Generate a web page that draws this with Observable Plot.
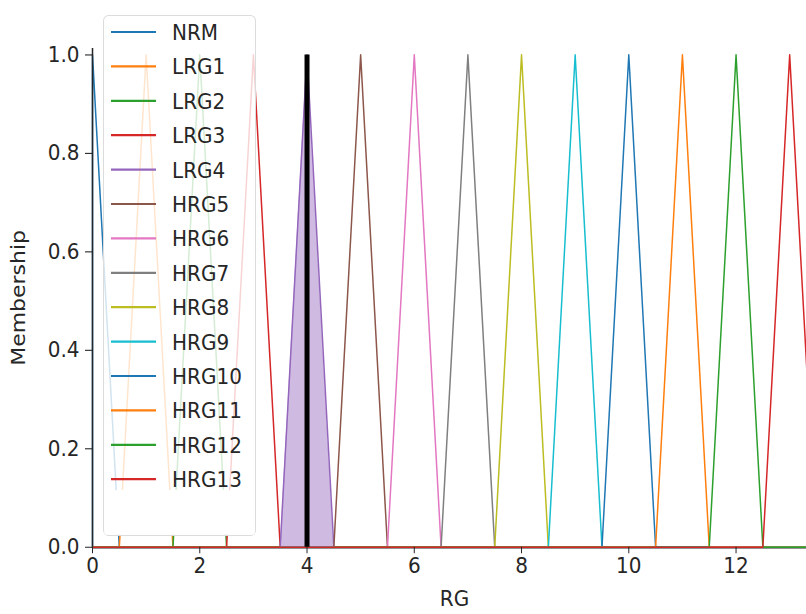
<!DOCTYPE html>
<html>
<head>
<meta charset="utf-8">
<script src="https://cdn.jsdelivr.net/npm/d3@7"></script>
<script src="https://cdn.jsdelivr.net/npm/@observablehq/plot@0.6"></script>
<style>
  html, body { margin: 0; padding: 0; background: #fff; overflow: hidden; width: 806px; height: 614px; }
  #chart { width: 830px; }
  #chart svg { display: block; max-width: none !important; transform: scaleY(1.1); transform-origin: 0 0; }
</style>
</head>
<body>
<div id="chart"></div>
<script>
// Membership functions (triangular): left foot, peak, right foot
const names = ["NRM","LRG1","LRG2","LRG3","LRG4","HRG5","HRG6","HRG7","HRG8","HRG9","HRG10","HRG11","HRG12","HRG13"];
const footLeft  = [0, 0.5, 1.5, 2.5, 3.5, 4.5, 5.5, 6.5, 7.5, 8.5, 9.5, 10.5, 11.5, 12.5];
const peaks     = [0, 1, 2, 3, 4, 5, 6, 7, 8, 9, 10, 11, 12, 13];
const footRight = [0.5, 1.5, 2.5, 3.5, 4.5, 5.5, 6.5, 7.5, 8.5, 9.5, 10.5, 11.5, 12.5, 13.5];
const universe = [0, 13.5];
const colors = ["#1f77b4","#ff7f0e","#2ca02c","#d62728","#9467bd","#8c564b","#e377c2","#7f7f7f","#bcbd22","#17becf","#1f77b4","#ff7f0e","#2ca02c","#d62728"];
const activeSet = "LRG4";
const activationX = [4];
const activationLevel = 1;
const xTicks = [0, 2, 4, 6, 8, 10, 12];
const yTicks = [0, 0.2, 0.4, 0.6, 0.8, 1.0];

const rows = [];
names.forEach((n, i) => {
  const pts = [[universe[0], 0], [footLeft[i], 0], [peaks[i], 1], [footRight[i], 0], [universe[1], 0]];
  pts.forEach(([x, y], k) => rows.push({name: n, x, y, k}));
});
const activeRows = rows.filter(d => d.name === activeSet).map(d => ({...d, y: Math.min(d.y, activationLevel)}));

// the picture is stretched vertically by S; the SVG is laid out in unstretched units
const S = 1.1;
const W = 830, H = 614 / S;
const chart = Plot.plot({
  width: W, height: H,
  marginLeft: 92, marginRight: 14, marginTop: 48 / S, marginBottom: (614 - 546.7) / S,
  style: {fontFamily: "DejaVu Sans", fontSize: "20px", color: "#262626", background: "#fff", maxWidth: "none"},
  x: {domain: universe, label: null},
  y: {domain: [0, 1.013], label: null},
  color: {domain: names, range: colors},
  marks: [
    Plot.ruleY([0], {stroke: "#262626", strokeWidth: 2.2}),
    Plot.line(rows, {x: "x", y: "y", z: "name", stroke: "name", strokeWidth: 1.5, curve: "linear"}),
    Plot.areaY(activeRows, {x: "x", y: "y", fill: "#9467bd", fillOpacity: 0.45}),
    Plot.ruleX(activationX, {y1: 0, y2: activationLevel, stroke: "black", strokeWidth: 5}),
    Plot.ruleX([0], {stroke: "#262626", strokeWidth: 1.5}),
    Plot.axisX({ticks: xTicks, tickFormat: d => String(d), tickSize: 6, tickPadding: 3, fontSize: 20, label: "RG", labelAnchor: "center", labelArrow: "none", labelOffset: 53}),
    Plot.axisY({ticks: yTicks, tickFormat: d => d.toFixed(1), tickSize: 7, tickPadding: 6, fontSize: 20, label: "Membership", labelAnchor: "center", labelArrow: "none", labelOffset: 82})
  ]
});
document.getElementById("chart").appendChild(chart);

// Legend (matplotlib-style, semi-transparent box)
const svg = d3.select(chart);
const lg = svg.append("g").attr("font-family", "DejaVu Sans").attr("font-size", 20).attr("text-anchor", "start");
lg.append("rect").attr("x", 103.5).attr("y", 15.5 / S).attr("width", 152).attr("height", 520 / S)
  .attr("rx", 5).attr("fill", "white").attr("fill-opacity", 0.8).attr("stroke", "#dcdcdc");
lg.append("rect").attr("x", 104.5).attr("y", 490 / S).attr("width", 150).attr("height", 44.5 / S).attr("fill", "white");
names.forEach((n, i) => {
  const y = (32 + i * 34.4) / S;
  lg.append("line").attr("x1", 111).attr("x2", 156).attr("y1", y).attr("y2", y)
    .attr("stroke", colors[i]).attr("stroke-width", 2);
  lg.append("text").attr("x", 172).attr("y", y).attr("dy", "0.36em").attr("text-anchor", "start").attr("fill", "#262626").text(n);
});
</script>
</body>
</html>
